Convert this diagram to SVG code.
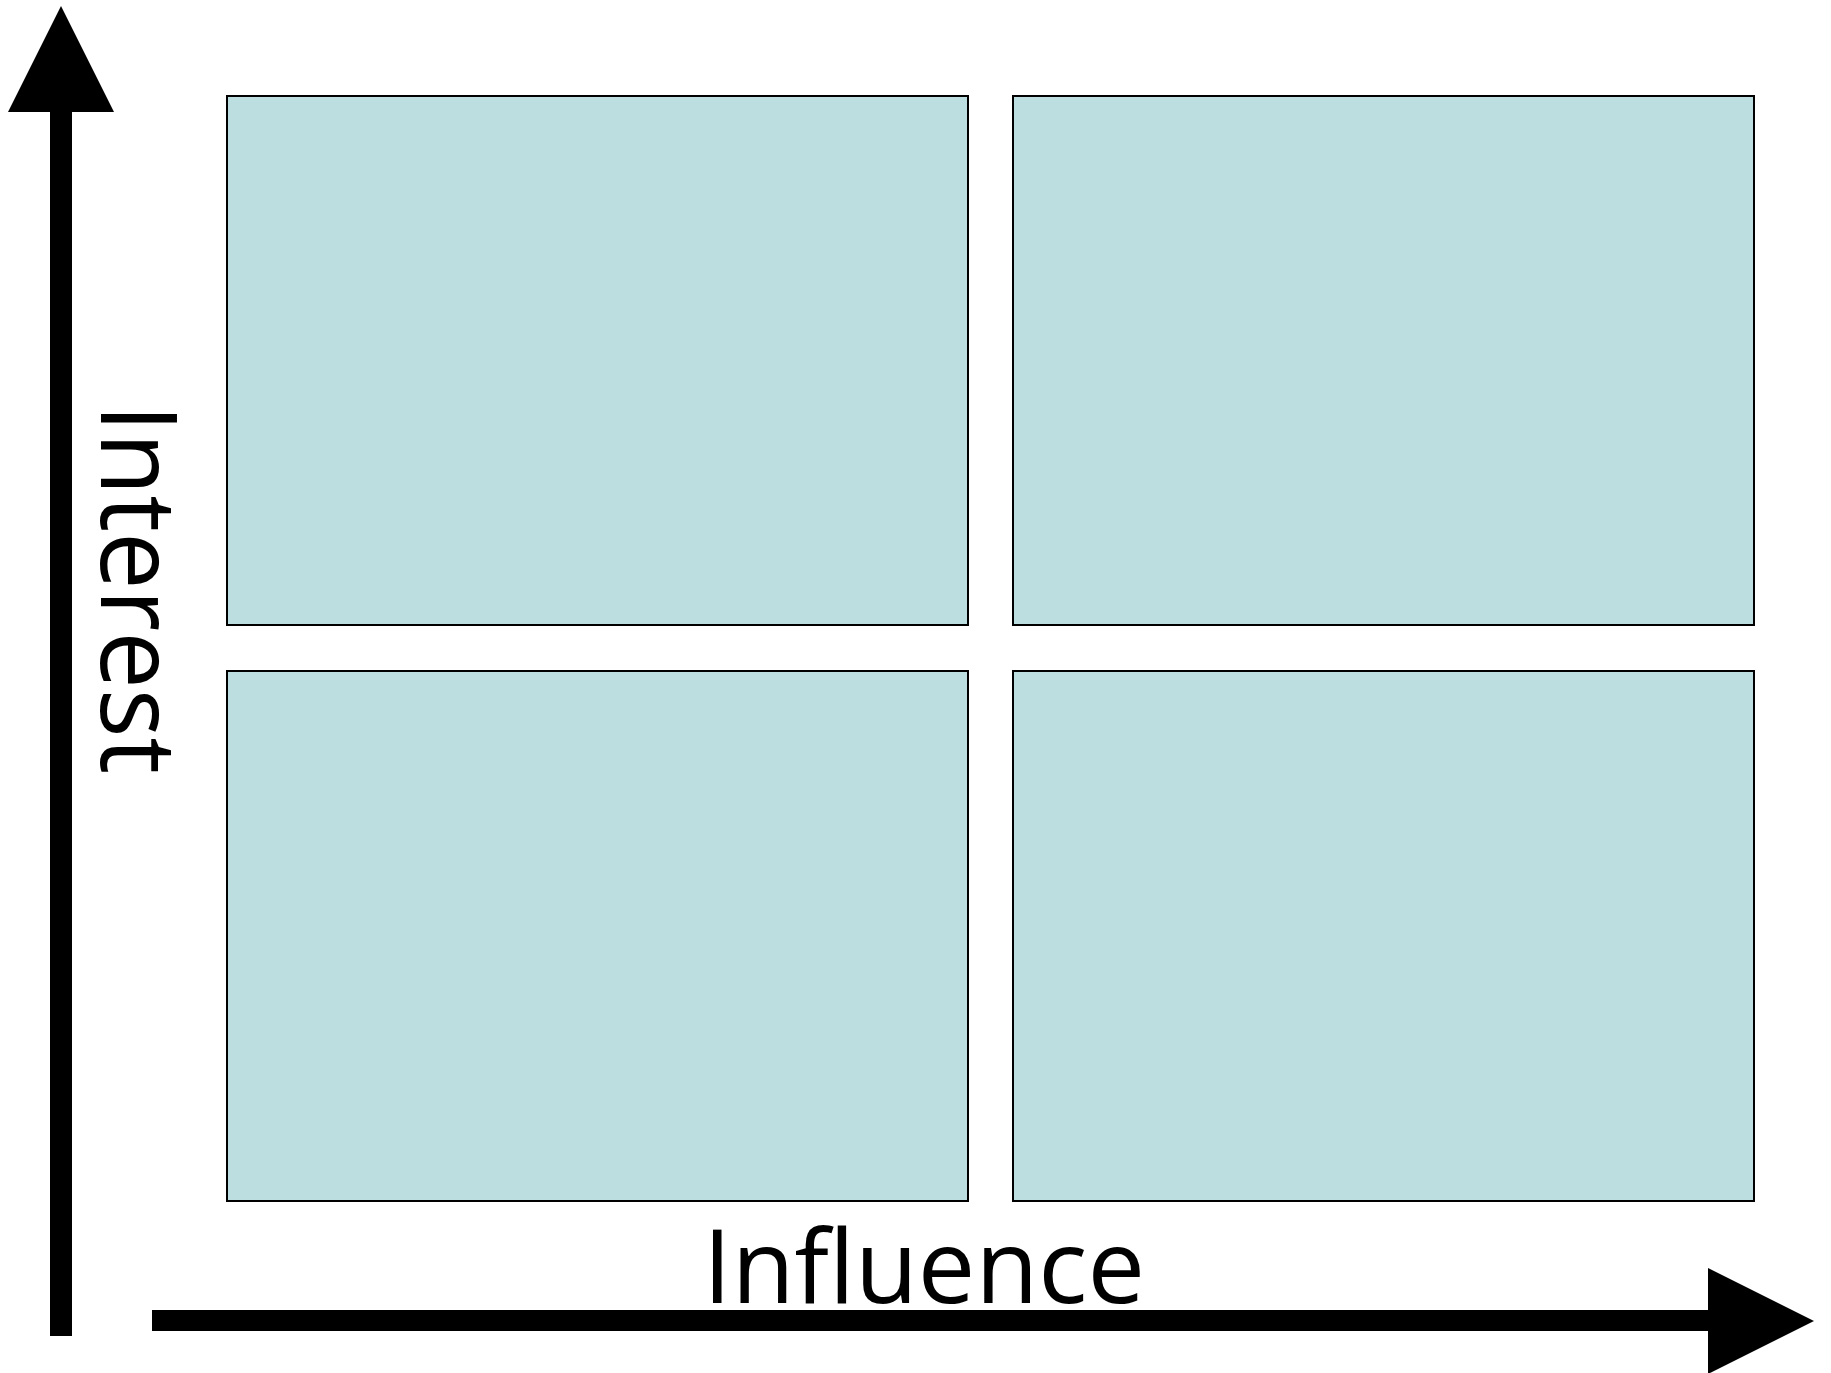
<svg xmlns="http://www.w3.org/2000/svg" width="1831" height="1373" viewBox="0 0 1831 1373">
  <style>
    .quad { fill: #BCDEE1; stroke: #000000; stroke-width: 2; }
    .axis { fill: #000000; stroke: none; }
    .label { font-family: "Open Sans", "Liberation Sans", sans-serif; font-size: 102px; fill: #000000; }
  </style>
  <rect x="0" y="0" width="1831" height="1373" fill="#FFFFFF"/>
  <g id="quadrant-top-left"><rect class="quad" x="227" y="96" width="741" height="529"/></g>
  <g id="quadrant-top-right"><rect class="quad" x="1013" y="96" width="741" height="529"/></g>
  <g id="quadrant-bottom-left"><rect class="quad" x="227" y="671" width="741" height="530"/></g>
  <g id="quadrant-bottom-right"><rect class="quad" x="1013" y="671" width="741" height="530"/></g>
  <g id="connectors">
    <g id="axis-interest">
      <rect class="axis" x="50" y="110" width="22" height="1226"/>
      <polygon class="axis" points="61,6 114,112 8,112"/>
    </g>
    <g id="axis-influence">
      <rect class="axis" x="152" y="1310" width="1558" height="21"/>
      <polygon class="axis" points="1708,1268 1814,1321 1708,1374"/>
    </g>
  </g>
  <g id="label-interest">
    <text class="label" style="font-size:106px" transform="translate(101,404) rotate(90)" textLength="370" lengthAdjust="spacingAndGlyphs">Interest</text>
  </g>
  <g id="label-influence">
    <text class="label" x="703" y="1303" textLength="442" lengthAdjust="spacingAndGlyphs">Influence</text>
  </g>
</svg>
